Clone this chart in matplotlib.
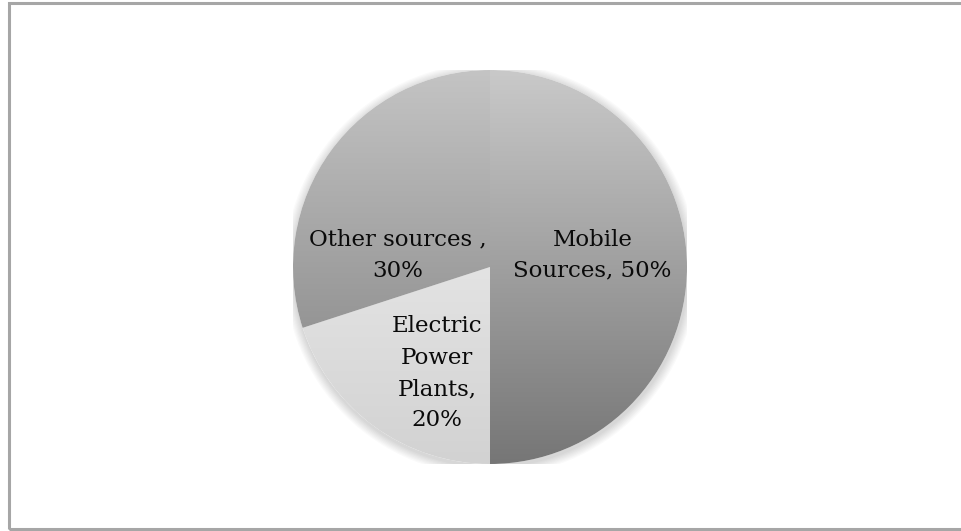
import matplotlib
matplotlib.use("Agg")
import matplotlib.pyplot as plt
import numpy as np
from matplotlib.patches import Rectangle, Circle
from matplotlib.colors import LinearSegmentedColormap

labels = ["Mobile\nSources, 50%", "Electric\nPower\nPlants,\n20%", "Other sources ,\n30%"]
values = [50, 20, 30]
# top / bottom grey of each slice's vertical gradient
grad_top = ["#c9c9c9", "#e3e3e3", "#c4c4c4"]
grad_bottom = ["#767676", "#d2d2d2", "#959595"]
# label centres in pie radius units
label_pos = [(0.52, 0.06), (-0.27, -0.54), (-0.47, 0.06)]

W, H = 961, 531
fig = plt.figure(figsize=(W / 100, H / 100), dpi=100)

# grey frame around the chart area
frame = Rectangle((9 / W, 2 / H), 1.2, (529 - 3) / H, transform=fig.transFigure,
                  fill=False, edgecolor="#a6a6a6", linewidth=2.2)
fig.patches.append(frame)

cx, cy, r = 490, 267, 197
ax = fig.add_axes([(cx - r) / W, (H - cy - r) / H, 2 * r / W, 2 * r / H])
ax.axis("off")

# soft outer shadow
for k in range(8):
    ax.add_patch(Circle((0.004, -0.012), 1 + 0.006 * (k + 1), color="#000000",
                        alpha=0.018, lw=0, zorder=0))
ax.add_patch(Circle((0, 0), 1.0, color="white", lw=0, zorder=0.5))

wedges, _ = ax.pie(values, startangle=90, counterclock=False, radius=1,
                   wedgeprops=dict(linewidth=0))

for w, c0, c1 in zip(wedges, grad_top, grad_bottom):
    w.set_facecolor("none")
    # vertical gradient over the wedge's own extent
    verts = w.get_path().vertices
    ymin, ymax = verts[:, 1].min(), verts[:, 1].max()
    cmap = LinearSegmentedColormap.from_list("g", [c1, c0])
    grad = np.linspace(0, 1, 256).reshape(-1, 1)
    im = ax.imshow(grad, cmap=cmap, origin="lower", aspect="auto",
                   extent=[-1, 1, ymin, ymax], zorder=1, interpolation="bilinear")
    im.set_clip_path(w)

ax.set_xlim(-1, 1)
ax.set_ylim(-1, 1)

for txt, (x, y) in zip(labels, label_pos):
    ax.text(x, y, txt, ha="center", va="center", fontsize=16.5,
            family="DejaVu Serif", color="#0a0a0a", linespacing=1.55, zorder=3)

fig.savefig("out.png", dpi=100)
